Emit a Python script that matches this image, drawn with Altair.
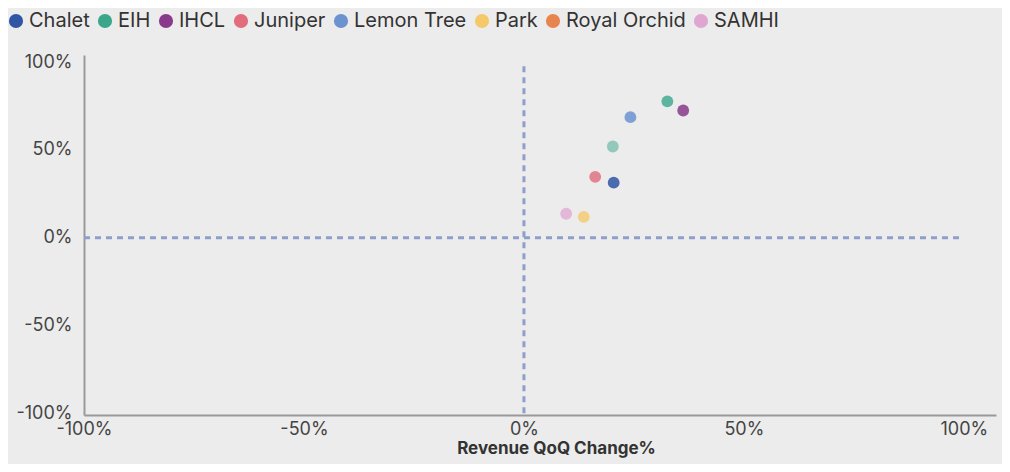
import altair as alt
import pandas as pd

companies = ["Chalet", "EIH", "IHCL", "Juniper", "Lemon Tree", "Park", "Royal Orchid", "SAMHI"]
colors = ["#2f55a4", "#3aa68c", "#8a3a8a", "#e06c7c", "#6c93d0", "#f5c96a", "#e8854f", "#e0a6d2"]

pt_company = ["EIH", "IHCL", "Lemon Tree", "EIH", "Juniper", "Chalet", "SAMHI", "Park"]
pt_x = [32.6, 36.2, 24.2, 20.2, 16.2, 20.4, 9.6, 13.6]
pt_y = [77.6, 72.4, 68.6, 51.9, 34.6, 31.3, 13.6, 11.8]
pt_op = [0.8, 0.85, 0.85, 0.5, 0.8, 0.85, 0.75, 0.8]

x_ticks = [-100, -50, 0, 50, 100]
y_ticks = [-100, -50, 0, 50, 100]

df = pd.DataFrame({"company": pt_company, "x": pt_x, "y": pt_y, "op": pt_op})

FONT = "Inter"
xscale = alt.Scale(domain=[-100, 107.3], nice=False, zero=False)
yscale = alt.Scale(domain=[-101, 104], nice=False, zero=False)

points = alt.Chart(df).mark_circle(size=140).encode(
    x=alt.X("x:Q", scale=xscale, title="Revenue QoQ Change%",
            axis=alt.Axis(values=x_ticks, labelExpr="datum.value + '%'", grid=False, ticks=False,
                          domainColor="#999999", domainWidth=2, labelFontSize=18, labelColor="#444444",
                          labelFont=FONT, labelPadding=5, titleFont=FONT, titleFontSize=17,
                          titleFontWeight="bold", titleColor="#333333", titlePadding=2, labelFlush=False,
                          titleX=472)),
    y=alt.Y("y:Q", scale=yscale, title=None,
            axis=alt.Axis(values=y_ticks, labelExpr="datum.value + '%'", grid=False, ticks=False,
                          domainColor="#999999", domainWidth=2, labelFontSize=18, labelColor="#444444",
                          labelFont=FONT, labelPadding=12)),
    color=alt.Color("company:N", scale=alt.Scale(domain=companies, range=colors),
                    legend=alt.Legend(orient="none", direction="horizontal", legendX=-78, legendY=-44,
                                      title=None, symbolType="circle", symbolSize=200, symbolOpacity=1,
                                      labelFontSize=20, labelFont=FONT, labelColor="#333333",
                                      labelOffset=3, columnPadding=5, symbolStrokeWidth=0, columns=8)),
    opacity=alt.Opacity("op:Q", scale=None, legend=None),
)

hline_df = pd.DataFrame({"x": [-100], "x2": [100], "y": [0]})
vline_df = pd.DataFrame({"y": [-100], "y2": [100], "x": [0]})

hline = alt.Chart(hline_df).mark_rule(color="#8f9fcc", strokeWidth=3, strokeDash=[6, 5]).encode(
    x=alt.X("x:Q", scale=xscale), x2="x2:Q", y=alt.Y("y:Q", scale=yscale))
vline = alt.Chart(vline_df).mark_rule(color="#8f9fcc", strokeWidth=3, strokeDash=[6, 5]).encode(
    y=alt.Y("y:Q", scale=yscale), y2="y2:Q", x=alt.X("x:Q", scale=xscale))

chart = alt.layer(hline, vline, points).properties(
    width=912, height=360,
    autosize=alt.AutoSizeParams(type="none"),
    padding={"left": 76, "top": 47, "right": 6, "bottom": 49},
    background="#ececec",
).configure_view(stroke=None)

chart.save("out.html", embed_options={"renderer": "svg", "actions": False})
